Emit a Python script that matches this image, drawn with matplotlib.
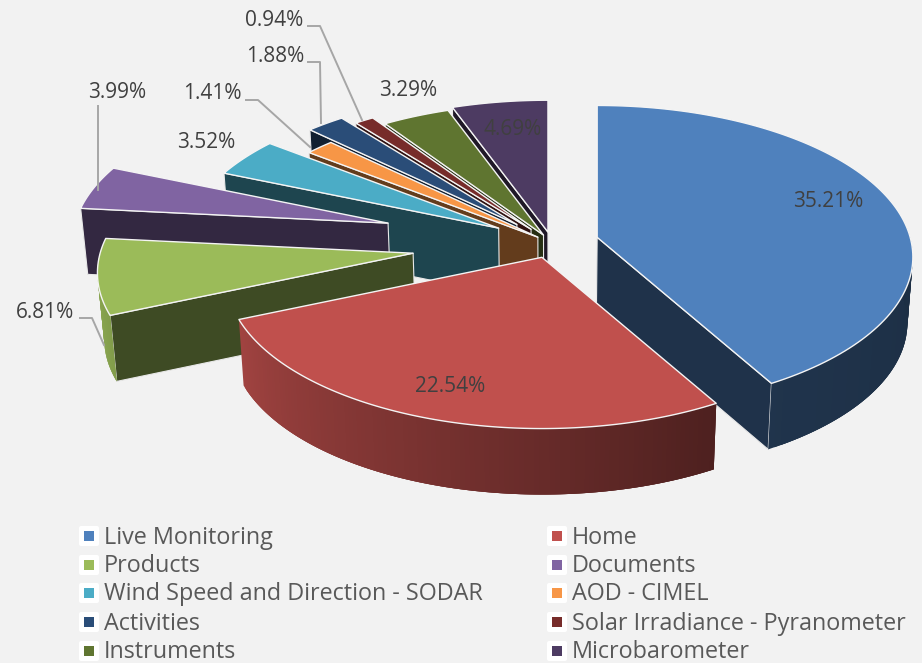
import numpy as np
import matplotlib
matplotlib.use("Agg")
import matplotlib.pyplot as plt
from matplotlib.patches import Polygon, FancyBboxPatch

plt.rcParams['font.family'] = ['Open Sans', 'DejaVu Sans']

categories = ["Live Monitoring", "Home", "Products", "Documents",
              "Wind Speed and Direction - SODAR", "AOD - CIMEL", "Activities",
              "Solar Irradiance - Pyranometer", "Instruments", "Microbarometer"]
values = [35.21, 22.54, 6.81, 3.99, 3.52, 1.41, 1.88, 0.94, 3.29, 4.69]
colors = ["#4F81BD", "#C0504D", "#9BBB59", "#8064A2", "#4BACC6",
          "#F79646", "#2A4D78", "#772C2A", "#5F7530", "#4D3B62"]
explode = [0.15, 0.10, 0.445, 0.55, 0.20, 0.06, 0.17, 0.115, 0.06, 0.075]

# label position and optional leader line for each slice
label_pos = [(828, 200), (450, 385), (45, 311), (117, 91), (206, 141),
             (212, 92), (275, 55), (274, 19), (408, 89), (513, 128)]
leaders = {2: [(80, 318), (92, 318), (104, 345)],
           3: [(98, 106), (98, 190)],
           5: [(246, 100), (258, 100), (310, 147)],
           6: [(308, 62), (320, 62), (321, 123)],
           7: [(308, 26), (320, 26), (362, 120)]}

# pie geometry in pixels
CX, CY = 552, 243
A, B, K = 313, 149, 0.13
DEPTH, TAPER = 66, 0.985


def project(u, v):
    s = 1 / (1 + K * v)
    return A * u * s, -B * v * s


def drop(xy):
    xy = np.asarray(xy, dtype=float)
    return np.column_stack([CX + (xy[:, 0] - CX) * TAPER, xy[:, 1] + DEPTH])


def shade(color, f):
    return tuple(np.array(matplotlib.colors.to_rgb(color)) * f)


fig = plt.figure(figsize=(9.22, 6.63), dpi=100, facecolor="#F2F2F2")
ax = fig.add_axes([0, 0, 1, 1])
ax.set_xlim(0, 922)
ax.set_ylim(663, 0)
ax.axis("off")

sweep = np.array(values) / sum(values) * 360
ends = 90 - np.cumsum(sweep)
starts = ends + sweep


def draw_slice(i, z):
    a1, a2 = ends[i], starts[i]
    mid = np.radians((a1 + a2) / 2)
    ax0, ay0 = project(explode[i] * np.cos(mid), explode[i] * np.sin(mid))
    apex = np.array([CX + ax0, CY + ay0])
    angs = np.linspace(a1, a2, 120)
    rad = np.radians(angs)
    px, py = project(np.cos(rad), np.sin(rad))
    arc = np.column_stack([apex[0] + px, apex[1] + py])
    col = colors[i]
    # cut faces that look towards the viewer
    if np.cos(rad[0]) > 0:
        q = np.array([apex, arc[0]])
        face = np.vstack([q, drop(q)[::-1]])
        ax.add_patch(Polygon(face, fc=shade(col, 0.39), ec="#E8E8E8", lw=0.8, zorder=z))
    if np.cos(rad[-1]) < 0:
        q = np.array([apex, arc[-1]])
        face = np.vstack([q, drop(q)[::-1]])
        ax.add_patch(Polygon(face, fc=shade(col, 0.40), ec="#E8E8E8", lw=0.8, zorder=z))
    # outer wall, shaded strip by strip, each strip overlapping the next
    low = drop(arc)
    for j in range(len(arc) - 1):
        if np.sin(rad[j]) >= 0.03 and np.sin(rad[j + 1]) >= 0.03:
            continue
        f = np.interp(angs[j], [-185, -157, -60, 0], [0.95, 0.84, 0.40, 0.36])
        k = min(j + 3, len(arc) - 1)
        strip = [arc[j], arc[k], low[k], low[j]]
        ax.add_patch(Polygon(strip, fc=shade(col, f), ec="none", zorder=z))
    # top
    top = np.vstack([apex, arc])
    ax.add_patch(Polygon(top, fc=col, ec="#F4F4F4", lw=1.0, joinstyle="round", zorder=z + 1))


paint_order = [9, 8, 7, 6, 5, 4, 3, 2, 0, 1]
for n, i in enumerate(paint_order):
    draw_slice(i, 2 + n * 2)

label_color = "#404040"
for i, (x, y) in enumerate(label_pos):
    ax.text(x, y + 1.5, f"{values[i]:.2f}%", ha="center", va="center",
            fontsize=15, color=label_color, zorder=40)
for i, pts in leaders.items():
    xs, ys = zip(*pts)
    ax.plot(xs, ys, color="#A6A6A6", lw=1.4, zorder=30)

# legend, two columns filled row by row
rows_y = [536, 565, 593, 622, 651]
col_x = [89, 557]
for i, name in enumerate(categories):
    x = col_x[i % 2]
    y = rows_y[i // 2]
    ax.add_patch(FancyBboxPatch((x - 10, y - 10), 20, 20, boxstyle="round,pad=0,rounding_size=2",
                                fc="white", ec="none", zorder=20))
    ax.add_patch(plt.Rectangle((x - 5, y - 5), 10, 10, fc=colors[i], ec="none", zorder=21))
    ax.text(x + 15, y + 1.5, name, ha="left", va="center", fontsize=16.8, color="#595959", zorder=21)

fig.savefig("out.png", dpi=100, facecolor=fig.get_facecolor())
